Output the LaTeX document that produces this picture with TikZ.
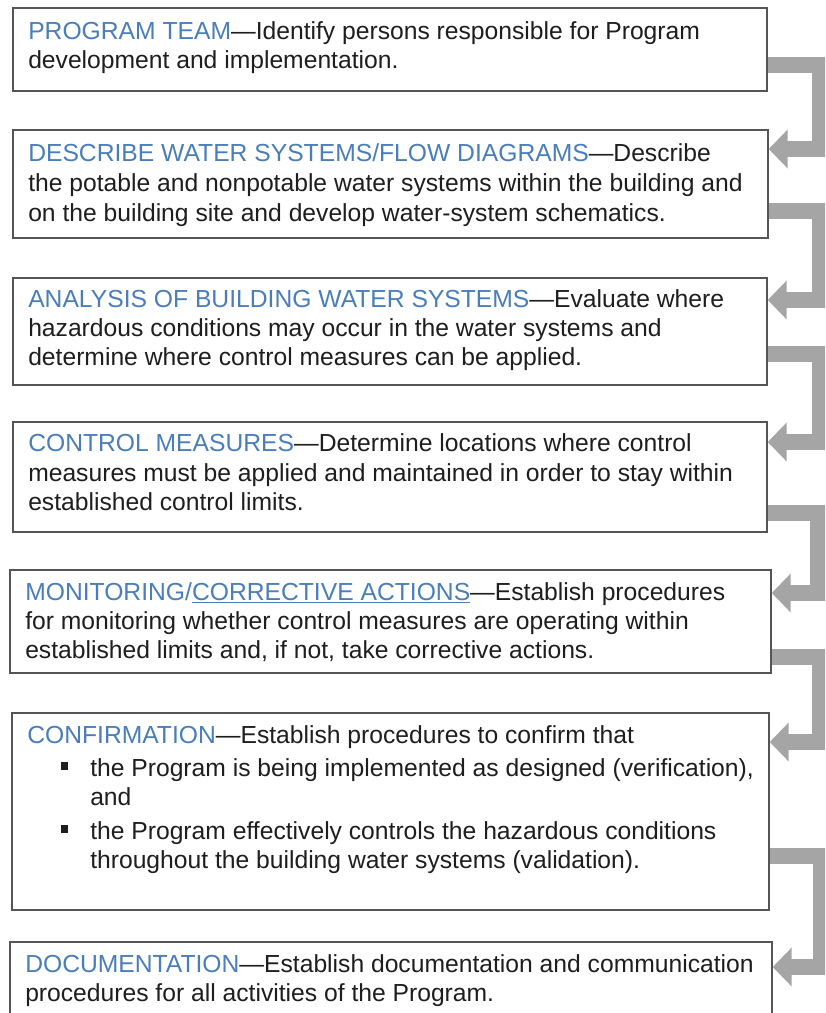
\documentclass[tikz,border=0pt]{standalone}
\usepackage{fontspec}
\setmainfont{Liberation Sans}
\usetikzlibrary{arrows.meta,fit}
\definecolor{hblue}{RGB}{74,126,187}
\definecolor{txtc}{RGB}{30,30,30}
\definecolor{boxc}{RGB}{85,85,85}
\definecolor{arrc}{RGB}{165,165,165}
\begin{document}
\begin{tikzpicture}[x=0.75pt,y=-0.75pt,
  box/.style={draw=boxc,line width=1.1pt,inner sep=0pt,fill=none},
  txt/.style={anchor=base west,inner sep=0pt,text=txtc,font=\fontsize{18.5pt}{22pt}\selectfont},
  bul/.style={fill=txtc,draw=none,minimum size=5.6pt,inner sep=0pt},
  conn/.style={draw=arrc,line width=12pt,line join=miter,-{Triangle[length=14.25pt,width=28.5pt]}}
]
\clip (0,0) rectangle (825,1013);
\fill[white] (0,0) rectangle (825,1013);
% boxes
\node[box,fit={(13,8)(767,91)}] (b1) {};
\node[box,fit={(13,130)(768,238)}] (b2) {};
\node[box,fit={(13,278)(767,385)}] (b3) {};
\node[box,fit={(13,422)(767,532)}] (b4) {};
\node[box,fit={(10,570)(771,673)}] (b5) {};
\node[box,fit={(12,713)(769,910)}] (b6) {};
\node[box,fit={(10,942)(772,1030)}] (b7) {};
% connectors
\draw[conn] (b1.east |- 0,65) -- (820,65) |- (b2.east |- 0,149);
\draw[conn] (b2.east |- 0,211) -- (820,211) |- (b3.east |- 0,300);
\draw[conn] (b3.east |- 0,354) -- (820,354) |- (b4.east |- 0,442);
\draw[conn] (b4.east |- 0,513) -- (818,513) |- (b5.east |- 0,593);
\draw[conn] (b5.east |- 0,657) -- (820,657) |- (b6.east |- 0,742);
\draw[conn] (b6.east |- 0,856) -- (821,856) |- (b7.east |- 0,967);
% redraw box borders on top
\foreach \b in {b1,b2,b3,b4,b5,b6,b7}{\draw[draw=boxc,line width=1.1pt] (\b.north west) rectangle (\b.south east);}
% texts
\node[txt] (t1a) at (28,39.5) {\textcolor{hblue}{PROGRAM TEAM}—Identify persons responsible for Program};
\node[txt] (t1b) at (28,68.5) {development and implementation.};
\node[txt] (t2a) at (28,161.5) {\textcolor{hblue}{DESCRIBE WATER SYSTEMS/FLOW DIAGRAMS}—Describe};
\node[txt] (t2b) at (28,191.5) {the potable and nonpotable water systems within the building and};
\node[txt] (t2c) at (28,221.5) {on the building site and develop water-system schematics.};
\node[txt] (t3a) at (28,307) {\textcolor{hblue}{ANALYSIS OF BUILDING WATER SYSTEMS}—Evaluate where};
\node[txt] (t3b) at (28,336) {hazardous conditions may occur in the water systems and};
\node[txt] (t3c) at (28,365) {determine where control measures can be applied.};
\node[txt] (t4a) at (28,451) {\textcolor{hblue}{CONTROL MEASURES}—Determine locations where control};
\node[txt] (t4b) at (28,481) {measures must be applied and maintained in order to stay within};
\node[txt] (t4c) at (28,510) {established control limits.};
\node[txt] (t5a) at (25,600) {\textcolor{hblue}{MONITORING/\underline{CORRECTIVE ACTIONS}}—Establish procedures};
\node[txt] (t5b) at (25,629) {for monitoring whether control measures are operating within};
\node[txt] (t5c) at (25,658) {established limits and, if not, take corrective actions.};
\node[txt] (t6a) at (27,743) {\textcolor{hblue}{CONFIRMATION}—Establish procedures to confirm that};
\node[bul] (s1) at (64.5,766) {};
\node[txt] (t6b) at (90,776) {the Program is being implemented as designed (verification),};
\node[txt] (t6c) at (90,805) {and};
\node[bul] (s2) at (64.5,829) {};
\node[txt] (t6d) at (90,839) {the Program effectively controls the hazardous conditions};
\node[txt] (t6e) at (90,868) {throughout the building water systems (validation).};
\node[txt] (t7a) at (25,972) {\textcolor{hblue}{DOCUMENTATION}—Establish documentation and communication};
\node[txt] (t7b) at (25,1001) {procedures for all activities of the Program.};
\end{tikzpicture}
\end{document}
